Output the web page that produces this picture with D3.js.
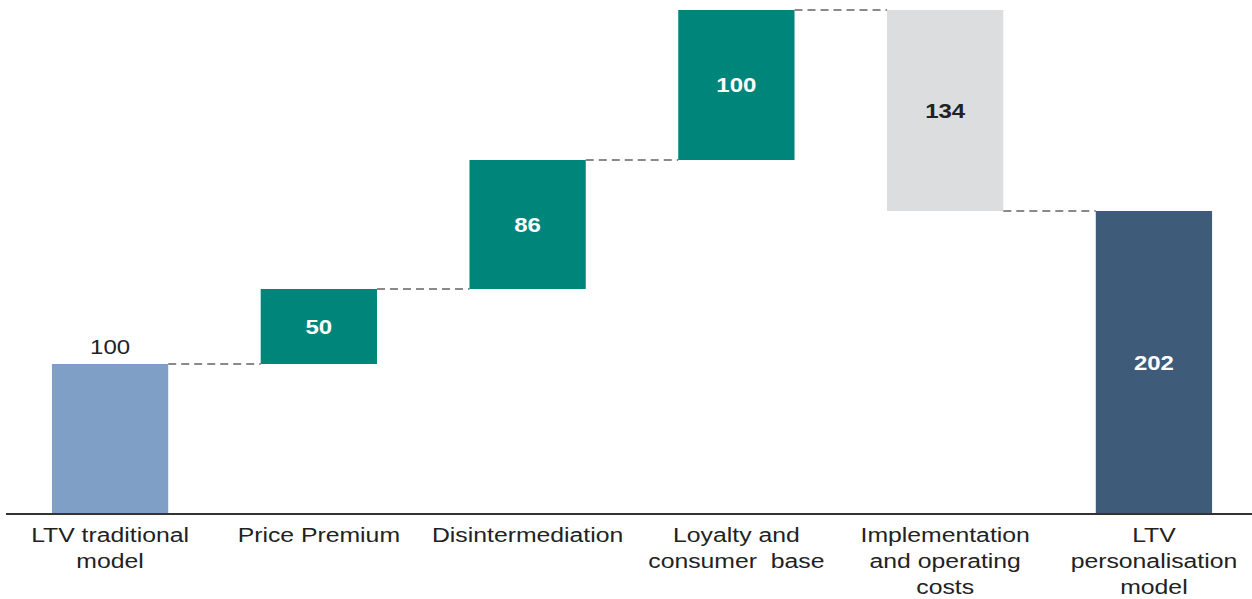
<!DOCTYPE html>
<html>
<head>
<meta charset="utf-8">
<script src="https://cdn.jsdelivr.net/npm/d3@7"></script>
<style>
  html, body { margin: 0; padding: 0; background: #fff; }
  svg { display: block; }
  text { font-family: "Liberation Sans", Arial, sans-serif; }
</style>
</head>
<body>
<svg id="chart" width="1252" height="599"></svg>
<script>
// ---- data ----
const categories = [
  ["LTV traditional", "model"],
  ["Price Premium"],
  ["Disintermediation"],
  ["Loyalty and", "consumer  base"],
  ["Implementation", "and operating", "costs"],
  ["LTV", "personalisation", "model"]
];
const values = [100, 50, 86, 100, -134, 202];
const kinds = ["total", "delta", "delta", "delta", "delta", "total"];
const valueLabels = ["100", "50", "86", "100", "134", "202"];

// ---- build waterfall ----
let running = 0;
const bars = values.map((v, i) => {
  let y0, y1;
  if (kinds[i] === "total") { y0 = 0; y1 = v; running = v; }
  else { y0 = running; y1 = running + v; running = y1; }
  return { i, key: categories[i].join(" "), lo: Math.min(y0, y1), hi: Math.max(y0, y1), end: y1, kind: kinds[i], neg: v < 0 };
});

const svg = d3.select("#chart");
const x = d3.scaleBand().domain(bars.map(d => d.key)).range([6, 1258]).paddingInner(0.443).paddingOuter(0.22);
const y = d3.scaleLinear().domain([0, 336]).range([514, 10]);

const color = d => d.i === 0 ? "#7f9fc7" : d.i === bars.length - 1 ? "#3f5b7a" : d.neg ? "#dcdddf" : "#00857a";

// connectors
const conn = bars.slice(0, -1).map((d, i) => ({ x1: x(d.key) + x.bandwidth(), x2: x(bars[i + 1].key), yv: d.end }));
svg.append("g").selectAll("line").data(conn).join("line")
  .attr("x1", d => d.x1).attr("x2", d => d.x2)
  .attr("y1", d => y(d.yv)).attr("y2", d => y(d.yv))
  .attr("stroke", "#8a8a8a").attr("stroke-width", 2).attr("stroke-dasharray", "8,5");

// bars
svg.append("g").selectAll("rect").data(bars).join("rect")
  .attr("x", d => x(d.key)).attr("width", x.bandwidth())
  .attr("y", d => y(d.hi)).attr("height", d => y(d.lo) - y(d.hi))
  .attr("fill", color);

// value labels
svg.append("g").selectAll("text").data(bars).join("text")
  .attr("transform", d => {
    const cx = x(d.key) + x.bandwidth() / 2;
    const cy = d.i === 0 ? y(d.hi) - 10 : (y(d.hi) + y(d.lo)) / 2 + 7;
    return `translate(${cx},${cy}) scale(1.2,1)`;
  })
  .attr("text-anchor", "middle")
  .attr("font-size", 20)
  .attr("font-weight", d => d.i === 0 ? "normal" : "bold")
  .attr("fill", d => d.i === 0 || d.neg ? "#222" : "#fff")
  .text(d => valueLabels[d.i]);

// axis
const axis = svg.append("g").attr("transform", `translate(0,${y(0)})`)
  .call(d3.axisBottom(x).tickSize(0).tickFormat(""));
axis.select(".domain").attr("d", "M6,0H1252").attr("stroke", "#333").attr("stroke-width", 2);
axis.selectAll(".tick text").remove();
axis.selectAll(".tick").each(function(k, i) {
  const t = d3.select(this).append("text")
    .attr("text-anchor", "middle").attr("fill", "#222").attr("font-size", 21)
    .attr("transform", "translate(0,28) scale(1.18,1)");
  categories[i].forEach((line, j) => {
    t.append("tspan").attr("x", 0).attr("dy", j === 0 ? 0 : 26).attr("xml:space", "preserve").text(line);
  });
});
</script>
</body>
</html>
